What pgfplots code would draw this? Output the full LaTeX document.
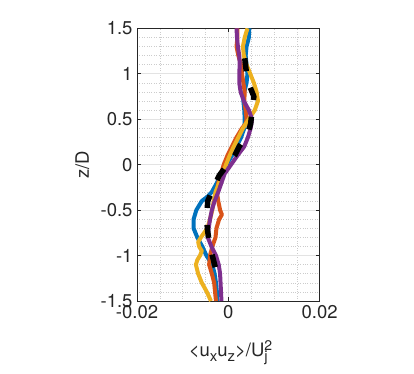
\documentclass[border=0pt]{standalone}
\usepackage{fontspec}
\setmainfont{TeX Gyre Heros}
\usepackage{pgfplots}
\pgfplotsset{compat=1.18}
\definecolor{mblue}{rgb}{0,0.447,0.741}
\definecolor{morange}{rgb}{0.85,0.325,0.098}
\definecolor{myellow}{rgb}{0.929,0.694,0.125}
\definecolor{mpurple}{rgb}{0.494,0.184,0.556}
\definecolor{axgray}{rgb}{0.15,0.15,0.15}
\newcommand\lo[1]{\raisebox{-5pt}{\fontsize{15}{15}\selectfont #1}}
\newcommand\hi[1]{\raisebox{6pt}{\fontsize{14}{14}\selectfont #1}}

\begin{document}
\begin{tikzpicture}
\useasboundingbox (0,0) rectangle (414pt,373pt);
\begin{axis}[
 at={(137pt,72pt)},anchor=south west,
 scale only axis,width=182.6pt,height=272.7pt,
 xmin=-0.02,xmax=0.02,ymin=-1.5,ymax=1.5,
 xtick={-0.02,0,0.02},ytick={-1.5,-1,-0.5,0,0.5,1,1.5},
 minor x tick num=3,minor y tick num=4,
 minor tick length=0pt,major tick length=4pt,
 tick align=inside,tick pos=both,
 scaled x ticks=false,
 xticklabel style={/pgf/number format/fixed,/pgf/number format/precision=2,yshift=-1pt},
 yticklabel style={xshift=-1pt},
 /pgf/number format/assume math mode=true,
 grid=both,
 major grid style={gray!22,line width=0.6pt},
 minor grid style={gray!40,dotted,line width=0.5pt},
 axis line style={axgray,line width=0.8pt},
 every tick/.style={axgray,line width=0.8pt},
 tick label style={font=\fontsize{18.5}{18.5}\selectfont,text=axgray},
 label style={font=\fontsize{18.5}{18.5}\selectfont,text=axgray},
 xlabel={<u\lo{x}u\lo{z}>/U\rlap{\hi{2}}\lo{j}},
 ylabel={z/D},
 xlabel style={at={(axis description cs:0.5,-0.204)},anchor=base},
 ylabel style={at={(axis description cs:-0.30,0.5)},anchor=center},
]
% blue
\addplot[mblue,line width=4pt,line join=round] coordinates {
(0.0046,1.5) (0.0045,1.4) (0.0040,1.3) (0.0038,1.2) (0.0040,1.1) (0.0042,1.0)
(0.0040,0.9) (0.0035,0.8) (0.0033,0.7) (0.0035,0.6) (0.0036,0.5) (0.0035,0.4)
(0.0028,0.3) (0.0018,0.2) (0.0008,0.1) (-0.0004,0.0) (-0.0015,-0.1) (-0.0025,-0.2)
(-0.0036,-0.3) (-0.0045,-0.35) (-0.0058,-0.4) (-0.0070,-0.5) (-0.0076,-0.6)
(-0.0076,-0.7) (-0.0068,-0.8) (-0.0057,-0.9) (-0.0048,-1.0) (-0.0035,-1.1)
(-0.0030,-1.2) (-0.0027,-1.3) (-0.0025,-1.4) (-0.0024,-1.5)};
% orange
\addplot[morange,line width=4pt,line join=round] coordinates {
(0.0020,1.5) (0.0020,1.4) (0.0018,1.3) (0.0022,1.2) (0.0028,1.1) (0.0030,1.0)
(0.0033,0.9) (0.0036,0.8) (0.0035,0.7) (0.0038,0.6) (0.0040,0.5) (0.0038,0.45)
(0.0030,0.4) (0.0018,0.3) (0.0008,0.2) (-0.0002,0.1) (-0.0010,0.0) (-0.0016,-0.1)
(-0.0022,-0.2) (-0.0025,-0.3) (-0.0022,-0.4) (-0.0018,-0.5) (-0.0014,-0.55)
(-0.0020,-0.6) (-0.0026,-0.7) (-0.0028,-0.8) (-0.0035,-0.9) (-0.0040,-1.0)
(-0.0042,-1.1) (-0.0036,-1.2) (-0.0031,-1.3) (-0.0029,-1.4) (-0.0027,-1.5)};
% yellow
\addplot[myellow,line width=4pt,line join=round] coordinates {
(0.0042,1.5) (0.0036,1.4) (0.0032,1.3) (0.0034,1.2) (0.0040,1.1) (0.0048,1.0)
(0.0056,0.9) (0.0062,0.8) (0.0065,0.7) (0.0058,0.6) (0.0045,0.5) (0.0032,0.4)
(0.0022,0.3) (0.0012,0.2) (0.0003,0.1) (-0.0005,0.0) (-0.0012,-0.1) (-0.0020,-0.2)
(-0.0028,-0.3) (-0.0032,-0.4) (-0.0035,-0.5) (-0.0040,-0.6) (-0.0046,-0.7)
(-0.0060,-0.8) (-0.0066,-0.85) (-0.0064,-0.9) (-0.0058,-0.95) (-0.0062,-1.0)
(-0.0068,-1.05) (-0.0071,-1.1) (-0.0066,-1.2) (-0.0058,-1.3) (-0.0047,-1.4)
(-0.0038,-1.5)};
% purple
\addplot[mpurple,line width=4pt,line join=round] coordinates {
(0.0018,1.5) (0.0019,1.4) (0.0021,1.3) (0.0024,1.2) (0.0025,1.1) (0.0024,1.0)
(0.0024,0.9) (0.0027,0.8) (0.0034,0.7) (0.0045,0.6) (0.0052,0.5) (0.0049,0.4)
(0.0043,0.3) (0.0035,0.2) (0.0020,0.1) (0.0006,0.0) (-0.0008,-0.1) (-0.0015,-0.2)
(-0.0022,-0.3) (-0.0030,-0.4) (-0.0036,-0.5) (-0.0040,-0.6) (-0.0043,-0.7)
(-0.0045,-0.8) (-0.0037,-0.9) (-0.0027,-1.0) (-0.0021,-1.1) (-0.0018,-1.2)
(-0.0017,-1.3) (-0.0016,-1.4) (-0.0015,-1.5)};
% black dashed
\addplot[black,line width=5.5pt,dash pattern=on 13pt off 17pt,line cap=butt,line join=round] coordinates {
(0.0036,1.17) (0.0040,1.0) (0.0048,0.85) (0.0056,0.75) (0.0052,0.6) (0.0049,0.45)
(0.0043,0.35) (0.0024,0.2) (0.0014,0.1) (-0.0002,0.0) (-0.0020,-0.12) (-0.0032,-0.25)
(-0.0045,-0.4) (-0.0047,-0.55) (-0.0046,-0.7) (-0.0042,-0.85) (-0.0035,-1.0)
(-0.0030,-1.1) (-0.0022,-1.25)};
\end{axis}
\end{tikzpicture}
\end{document}
